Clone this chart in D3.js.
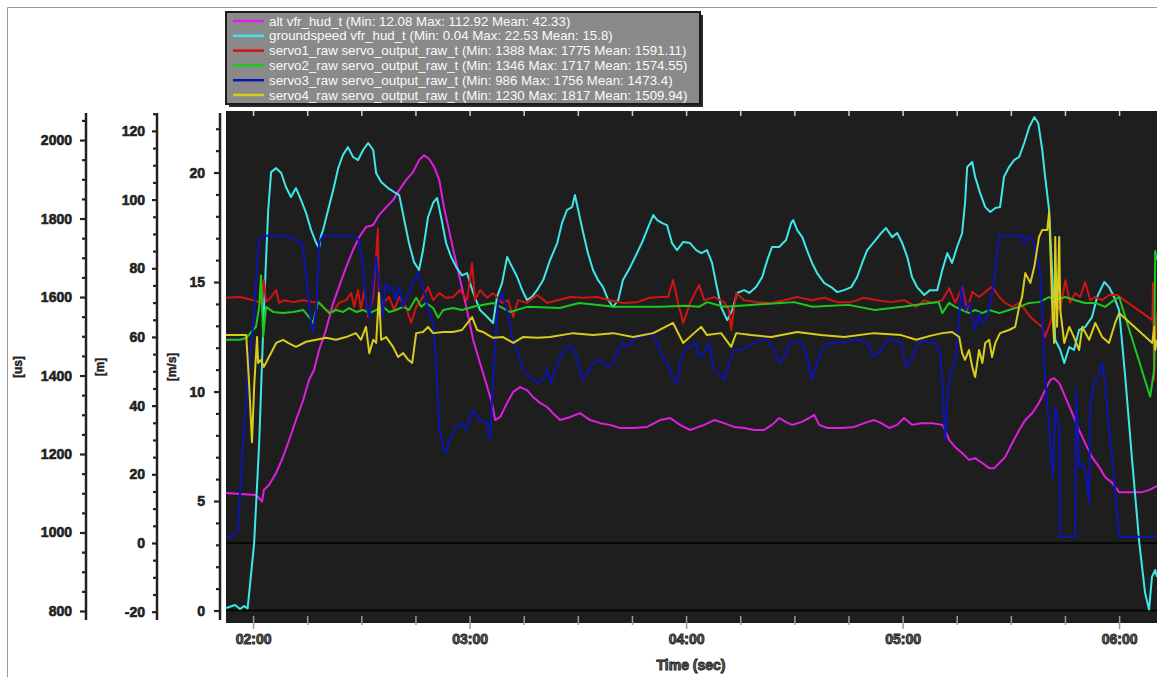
<!DOCTYPE html>
<html>
<head>
<meta charset="utf-8">
<script src="https://cdn.jsdelivr.net/npm/d3@7"></script>
<style>
  body { margin: 0; background: #fff; }
  svg text { font-family: "Liberation Sans", Arial, sans-serif; }
</style>
</head>
<body>
<div id="graph"></div>
<script>
// [time (s), value] samples
const altData = [[112.5,14.56],[116.5,14.3],[120.8,13.97],[122.5,12.08],[123.0,15.43],[124.4,16.88],[126.4,20.38],[128.3,25.04],[130.0,29.99],[131.9,35.81],[133.9,41.63],[135.5,47.45],[136.9,50.36],[138.3,56.19],[140.2,62.01],[142.2,69.87],[143.8,74.53],[145.8,80.35],[147.7,85.3],[149.4,89.08],[151.3,92.0],[153.3,92.58],[154.9,95.49],[156.9,97.82],[158.8,99.85],[160.5,102.77],[162.4,105.68],[164.3,108.0],[166.0,111.5],[167.4,112.92],[168.8,111.8],[170.2,109.5],[171.6,105.7],[172.9,97.8],[174.3,91.1],[175.7,84.4],[177.4,76.6],[179.3,67.8],[181.0,59.1],[182.9,52.4],[184.9,45.4],[186.2,40.8],[187.1,35.8],[188.5,36.7],[190.4,40.8],[192.1,44.0],[194.0,45.4],[195.9,44.5],[197.6,42.5],[199.5,40.8],[201.5,39.6],[203.1,37.8],[205.1,35.8],[207.9,36.7],[210.6,37.8],[213.4,35.8],[216.2,34.9],[218.9,34.4],[221.7,33.5],[225.3,33.5],[229.2,33.8],[232.8,35.8],[235.6,36.4],[238.3,34.4],[241.1,32.9],[245.0,34.4],[247.8,35.8],[250.5,34.9],[253.3,33.8],[256.1,33.5],[258.9,32.9],[261.6,32.9],[263.8,34.4],[265.8,36.4],[267.7,35.2],[269.4,34.4],[271.9,35.2],[274.1,36.4],[275.5,37.3],[276.9,34.4],[279.1,33.5],[283.0,33.5],[286.6,33.8],[289.3,34.9],[292.1,35.8],[294.1,34.9],[296.3,33.5],[298.5,34.4],[300.4,36.4],[302.6,34.4],[305.1,34.9],[308.2,34.9],[311.0,34.4],[311.8,32.9],[312.9,30.0],[314.6,27.9],[316.5,26.2],[318.4,24.2],[320.1,24.7],[322.1,23.3],[324.0,21.8],[325.4,21.8],[326.8,23.3],[328.4,25.0],[330.4,29.1],[332.3,32.9],[334.0,35.8],[335.9,37.8],[337.8,40.8],[339.5,44.5],[340.9,47.5],[342.0,48.0],[343.4,46.6],[345.1,42.5],[347.0,37.8],[348.9,32.9],[350.6,29.1],[352.5,25.0],[354.5,22.1],[356.1,19.2],[358.1,17.5],[360.0,14.8],[362.8,14.8],[366.4,14.8],[368.3,15.4],[370.5,16.6]];

const groundspeedData = [[112.5,0.11],[115.0,0.25],[116.4,0.07],[117.5,0.2],[118.5,0.1],[120.3,3.08],[121.7,7.65],[123.0,13.72],[124.2,18.29],[125.0,20.02],[126.4,20.2],[127.8,19.98],[129.1,19.34],[130.5,18.88],[131.9,19.29],[133.3,18.74],[134.7,18.15],[136.1,17.37],[137.5,16.78],[138.3,16.55],[138.8,17.1],[139.4,17.37],[140.8,18.29],[142.2,19.2],[143.6,20.2],[144.9,20.8],[146.3,21.16],[147.7,20.71],[149.1,20.57],[150.5,21.03],[151.9,21.35],[153.3,21.03],[154.1,19.98],[155.5,19.57],[157.4,19.29],[159.1,19.11],[160.5,18.97],[161.9,17.83],[163.2,16.78],[164.6,15.91],[166.0,15.55],[167.1,16.46],[168.5,17.97],[169.9,18.61],[171.0,18.84],[172.1,17.97],[173.5,16.78],[174.9,16.14],[176.3,15.68],[177.9,15.3],[179.3,15.41],[181.0,14.5],[182.9,13.72],[184.9,13.4],[186.5,13.13],[187.6,14.32],[189.0,14.95],[190.4,16.14],[191.8,15.68],[193.2,15.23],[194.6,14.63],[195.9,14.18],[197.3,14.32],[198.7,14.63],[200.4,15.09],[202.3,16.0],[204.3,16.78],[205.6,17.69],[207.0,18.29],[208.4,18.42],[209.2,18.97],[210.1,18.29],[211.5,17.24],[212.8,16.32],[214.2,15.55],[215.6,15.09],[217.0,14.77],[218.4,14.18],[219.8,13.86],[221.2,14.18],[222.5,15.09],[224.5,15.68],[226.4,16.32],[228.1,16.92],[229.5,17.51],[230.9,18.06],[232.0,17.83],[233.4,17.69],[234.7,17.6],[236.1,16.78],[237.5,16.46],[239.2,16.83],[241.1,16.78],[242.8,16.46],[244.2,16.32],[245.8,16.46],[247.2,15.87],[248.3,14.95],[249.7,13.86],[251.4,13.26],[252.8,13.72],[254.1,14.5],[256.1,14.63],[257.5,14.5],[259.4,14.77],[261.1,15.23],[262.5,16.0],[263.8,16.6],[265.8,16.6],[267.7,16.92],[269.1,17.69],[269.7,17.83],[270.8,17.37],[272.2,17.05],[273.5,16.46],[274.9,15.87],[276.3,15.41],[278.3,14.95],[280.2,14.77],[281.9,14.54],[283.8,14.63],[285.8,14.77],[287.4,15.23],[288.8,15.87],[290.2,16.46],[292.1,16.83],[294.1,17.24],[295.4,17.47],[297.1,17.05],[298.5,17.24],[299.9,16.78],[301.3,16.14],[302.6,15.23],[304.0,14.77],[306.0,14.41],[307.6,14.63],[309.6,14.63],[311.0,15.55],[312.4,16.32],[313.7,15.87],[315.1,16.6],[316.5,17.24],[317.3,18.61],[317.9,20.25],[319.3,20.48],[320.1,19.8],[321.5,19.06],[322.9,18.42],[324.3,18.2],[325.7,18.38],[327.0,18.42],[328.1,19.8],[329.5,20.25],[330.9,20.57],[332.3,20.71],[333.7,21.35],[335.1,22.08],[336.5,22.53],[337.6,22.26],[338.7,21.03],[339.5,19.8],[340.6,18.29],[341.5,15.23],[342.3,12.35],[343.7,11.9],[344.8,11.3],[346.2,12.03],[347.5,11.9],[348.9,12.81],[350.6,12.95],[352.5,13.4],[353.9,14.32],[355.9,15.0],[357.2,14.77],[358.6,14.32],[360.0,13.72],[361.7,10.66],[363.6,6.87],[365.6,3.08],[367.2,0.8],[368.3,0.04],[369.1,1.53],[370.0,1.85],[370.5,1.53]];

const servo1Data = [[112.5,1598],[116.4,1600],[120.0,1592],[122.2,1585],[123.0,1643],[123.6,1587],[125.0,1600],[126.4,1618],[127.2,1585],[128.6,1592],[131.1,1587],[133.9,1592],[136.6,1587],[138.3,1587],[140.2,1567],[142.2,1562],[143.8,1585],[145.8,1592],[147.2,1610],[148.0,1575],[149.1,1618],[149.9,1567],[150.8,1618],[151.9,1549],[153.3,1600],[154.6,1775],[154.9,1549],[156.0,1585],[157.7,1600],[159.1,1567],[160.5,1600],[162.4,1575],[163.8,1534],[165.2,1575],[167.1,1600],[168.5,1626],[169.9,1592],[171.6,1610],[173.5,1598],[175.4,1600],[177.4,1618],[179.3,1592],[180.7,1687],[181.5,1592],[182.9,1618],[184.9,1598],[186.5,1610],[189.0,1585],[190.7,1592],[192.1,1549],[193.4,1592],[195.9,1585],[198.7,1605],[201.5,1585],[204.3,1592],[207.9,1600],[211.5,1598],[215.3,1600],[218.9,1592],[222.5,1585],[226.4,1587],[230.0,1598],[232.8,1600],[235.0,1600],[236.4,1643],[237.8,1585],[239.2,1534],[241.1,1585],[243.6,1631],[245.0,1592],[247.8,1600],[250.5,1587],[251.9,1567],[252.5,1516],[253.9,1610],[256.1,1592],[259.7,1587],[263.6,1585],[267.2,1592],[270.8,1600],[274.7,1592],[278.3,1598],[281.9,1587],[285.7,1587],[289.3,1598],[292.9,1592],[296.8,1587],[300.4,1592],[303.8,1575],[306.0,1592],[308.2,1585],[311.0,1592],[312.9,1623],[314.6,1585],[316.5,1626],[317.9,1567],[319.3,1613],[321.2,1600],[322.9,1613],[324.8,1626],[326.8,1600],[328.4,1585],[330.4,1575],[332.3,1585],[334.0,1567],[335.4,1549],[337.3,1534],[338.7,1524],[339.5,1498],[340.9,1534],[342.3,1585],[343.7,1567],[345.1,1643],[346.4,1585],[347.8,1610],[349.2,1600],[350.6,1638],[352.0,1592],[353.4,1600],[355.3,1592],[357.2,1605],[359.5,1605],[369.2,1541],[369.4,1636],[369.7,1388],[370.0,1491],[370.5,1560]];

const servo2Data = [[112.5,1491],[116.4,1491],[118.1,1496],[120.0,1516],[120.8,1524],[121.7,1575],[122.2,1655],[122.8,1498],[123.6,1575],[125.6,1562],[128.3,1559],[131.1,1562],[133.9,1567],[135.5,1549],[136.6,1534],[138.0,1587],[139.4,1575],[141.1,1559],[143.0,1567],[145.0,1562],[146.6,1572],[148.6,1562],[150.5,1567],[152.2,1559],[154.1,1567],[156.0,1575],[157.7,1562],[159.6,1567],[161.6,1575],[163.2,1567],[165.2,1598],[166.6,1575],[167.9,1585],[169.9,1572],[171.3,1547],[172.7,1567],[175.4,1572],[177.9,1567],[181.0,1575],[186.5,1585],[191.2,1562],[196.0,1575],[205.0,1572],[210.4,1585],[220.0,1575],[232.8,1575],[240.0,1578],[243.6,1575],[245.8,1587],[250.5,1575],[255.0,1578],[270.0,1587],[275.0,1575],[285.0,1580],[292.3,1567],[300.0,1575],[307.6,1585],[310.0,1587],[311.0,1559],[312.9,1585],[314.6,1575],[316.5,1567],[318.4,1559],[320.1,1567],[322.1,1559],[324.0,1567],[326.8,1559],[329.5,1567],[332.3,1575],[335.1,1585],[337.8,1587],[340.6,1600],[342.3,1592],[345.1,1600],[347.8,1592],[350.6,1585],[353.4,1585],[356.1,1575],[358.6,1592],[360.0,1600],[368.6,1346],[369.7,1414],[370.0,1717],[370.5,1694]];

const servo3Data = [[112.5,989],[114.7,991],[115.8,1006],[117.2,1228],[118.6,1396],[120.0,1524],[121.4,1720],[121.7,1745],[122.8,1756],[125.5,1756],[129.1,1756],[131.9,1745],[133.6,1740],[134.7,1651],[136.1,1534],[136.6,1511],[137.5,1567],[138.3,1738],[139.4,1756],[143.0,1756],[147.7,1756],[149.4,1745],[150.5,1677],[151.3,1585],[152.2,1549],[153.3,1636],[154.1,1702],[154.9,1636],[156.0,1549],[156.6,1636],[157.7,1618],[158.8,1626],[159.6,1592],[160.5,1626],[161.6,1575],[163.0,1610],[164.3,1636],[165.7,1661],[167.1,1626],[168.5,1567],[169.9,1534],[170.7,1440],[171.6,1269],[172.7,1218],[173.5,1203],[174.3,1236],[176.3,1269],[177.9,1279],[178.8,1261],[181.0,1312],[182.9,1287],[184.9,1279],[185.7,1236],[186.2,1338],[187.1,1483],[187.9,1585],[189.0,1610],[190.4,1567],[191.8,1498],[193.2,1465],[194.8,1414],[196.8,1396],[198.7,1381],[200.4,1389],[201.5,1414],[202.6,1381],[203.7,1414],[205.1,1447],[207.0,1473],[208.7,1473],[210.1,1432],[211.2,1389],[212.6,1406],[214.2,1432],[216.2,1440],[218.1,1422],[219.8,1432],[221.2,1465],[222.5,1483],[223.9,1473],[225.3,1491],[227.3,1498],[229.2,1508],[230.6,1508],[232.0,1483],[233.4,1447],[234.7,1432],[236.1,1396],[237.5,1381],[238.3,1432],[239.7,1465],[241.1,1473],[242.8,1483],[243.6,1447],[245.0,1457],[246.4,1483],[247.8,1414],[249.2,1406],[250.5,1389],[251.9,1432],[253.3,1465],[255.3,1465],[256.9,1473],[258.9,1483],[260.8,1491],[262.5,1491],[264.4,1465],[265.8,1432],[267.2,1447],[268.6,1483],[270.5,1486],[272.2,1483],[273.5,1447],[274.9,1389],[276.3,1432],[277.7,1465],[279.1,1483],[281.9,1483],[284.6,1486],[287.4,1491],[290.2,1483],[292.1,1447],[294.1,1465],[295.7,1491],[297.7,1491],[299.6,1483],[301.0,1422],[302.4,1440],[303.8,1473],[305.4,1491],[307.4,1483],[309.0,1483],[310.4,1457],[311.2,1355],[311.8,1236],[312.4,1330],[313.2,1406],[314.6,1432],[315.7,1549],[316.2,1626],[317.3,1567],[318.4,1585],[319.3,1549],[320.1,1516],[321.2,1559],[322.1,1534],[323.4,1549],[324.3,1585],[325.4,1643],[326.2,1712],[326.8,1756],[329.5,1756],[333.1,1756],[333.7,1738],[334.5,1753],[335.9,1753],[336.7,1720],[338.1,1669],[339.5,1396],[340.9,1228],[341.7,1141],[342.3,1320],[343.4,1269],[343.7,989],[347.8,989],[348.1,1363],[348.9,1167],[349.8,1177],[350.6,1159],[351.7,1075],[352.0,1330],[353.1,1381],[354.5,1406],[355.3,1432],[356.1,1381],[357.2,1261],[358.6,1141],[360.0,989],[370.5,989]];

const servo4Data = [[112.5,1503],[116.4,1503],[118.1,1503],[118.9,1381],[119.7,1230],[120.3,1371],[121.1,1498],[121.4,1432],[122.2,1440],[123.0,1422],[124.4,1447],[126.4,1483],[128.3,1491],[129.7,1483],[131.9,1473],[134.7,1486],[137.5,1491],[140.2,1496],[143.0,1491],[145.8,1498],[148.5,1508],[149.9,1491],[151.3,1524],[152.2,1457],[153.3,1491],[154.1,1483],[154.9,1610],[155.5,1491],[156.9,1498],[158.8,1473],[160.2,1447],[161.6,1457],[163.0,1440],[164.1,1432],[165.2,1508],[167.1,1511],[168.5,1524],[169.9,1508],[172.7,1511],[175.4,1511],[177.9,1516],[180.7,1549],[182.1,1516],[183.7,1511],[186.5,1496],[189.3,1498],[192.1,1483],[194.8,1498],[198.7,1496],[202.3,1498],[208.7,1508],[214.2,1503],[219.8,1508],[225.3,1498],[230.9,1508],[236.4,1534],[239.2,1483],[242.2,1508],[244.2,1524],[245.8,1503],[249.7,1508],[252.5,1473],[253.9,1508],[258.0,1503],[263.6,1498],[270.8,1511],[277.4,1503],[283.8,1498],[292.1,1508],[299.6,1503],[303.8,1491],[307.6,1501],[311.0,1508],[313.7,1511],[315.7,1498],[316.5,1457],[317.3,1440],[318.4,1465],[319.3,1422],[320.1,1396],[321.2,1465],[322.1,1432],[322.9,1483],[324.0,1491],[324.8,1447],[325.7,1483],[327.0,1508],[329.5,1516],[331.2,1524],[332.3,1575],[333.1,1600],[334.0,1661],[335.4,1636],[336.5,1677],[337.8,1753],[338.7,1771],[340.1,1771],[340.6,1817],[341.5,1567],[342.0,1483],[342.3,1753],[342.8,1524],[343.4,1753],[343.7,1567],[344.8,1483],[346.2,1524],[347.5,1498],[348.9,1465],[349.8,1524],[351.7,1491],[353.4,1534],[355.3,1498],[357.2,1483],[358.9,1534],[360.0,1559],[369.2,1483],[369.7,1524],[370.0,1465],[370.5,1491]];

const legendLabels = [
  'alt vfr_hud_t (Min: 12.08 Max: 112.92 Mean: 42.33)',
  'groundspeed vfr_hud_t (Min: 0.04 Max: 22.53 Mean: 15.8)',
  'servo1_raw servo_output_raw_t (Min: 1388 Max: 1775 Mean: 1591.11)',
  'servo2_raw servo_output_raw_t (Min: 1346 Max: 1717 Mean: 1574.55)',
  'servo3_raw servo_output_raw_t (Min: 986 Max: 1756 Mean: 1473.4)',
  'servo4_raw servo_output_raw_t (Min: 1230 Max: 1817 Mean: 1509.94)'
];
const seriesColors = ['#e01ee0', '#3ee8e8', '#d01414', '#1ec81e', '#0c14b4', '#d8cc1c'];
const seriesAxes = ['m', 'ms', 'us', 'us', 'us', 'us'];
const timeDomain = [112.5, 370.5];

function drawChart(parent) {
  let width = 1157,
    height = 677,
    plot = { left: 226, right: 1157, top: 111, bottom: 623 };

  let svg = d3.select(parent).append('svg')
    .attr('width', width)
    .attr('height', height);

  // outer frame of the screenshot
  svg.append('path')
    .attr('d', `M7.5,${height} V7.5 H${width}`)
    .attr('fill', 'none')
    .attr('stroke', '#9a9a9a');

  let x = d3.scaleLinear().domain(timeDomain).range([plot.left, plot.right]);

  // each y axis keeps its own scale, all sharing the plot height
  let axes = {
    us: { title: '[us]', ax: 86, titleX: 18, titleY: 367, domain: [769.4, 2074], minor: 50, major: 200, lo: 800, hi: 2050, tick: 6, pad: 8 },
    m: { title: '[m]', ax: 157, titleX: 100, titleY: 367, domain: [-23.3, 125.8], minor: 5, major: 20, lo: -20, hi: 125, tick: 5, pad: 7 },
    ms: { title: '[m/s]', ax: 220, titleX: 172, titleY: 367, domain: [-0.57, 22.81], minor: 1, major: 5, lo: 0, hi: 22, tick: 6, pad: 9 }
  };
  Object.values(axes).forEach(a => {
    a.scale = d3.scaleLinear().domain(a.domain).range([plot.bottom, plot.top]);
  });

  // plot background
  svg.append('rect')
    .attr('x', plot.left)
    .attr('y', plot.top)
    .attr('width', plot.right - plot.left)
    .attr('height', plot.bottom - plot.top)
    .attr('fill', '#1e1e1e');

  svg.append('clipPath').attr('id', 'plotclip')
    .append('rect')
    .attr('x', plot.left)
    .attr('y', plot.top)
    .attr('width', plot.right - plot.left)
    .attr('height', plot.bottom - plot.top);

  // zero lines of the altitude and speed axes
  [axes.m.scale(0), axes.ms.scale(0)].forEach(yy => {
    svg.append('line')
      .attr('x1', plot.left).attr('x2', plot.right)
      .attr('y1', yy).attr('y2', yy)
      .attr('stroke', '#000')
      .attr('stroke-width', 1.5);
  });

  // left axes
  Object.values(axes).forEach(a => {
    let g = svg.append('g').attr('transform', `translate(${a.ax},0)`);
    let minorVals = d3.range(a.lo, a.hi + a.minor / 2, a.minor).filter(v => Math.abs(v % a.major) > 1e-6);
    let majorVals = d3.range(Math.ceil(a.lo / a.major) * a.major, a.hi + 1e-6, a.major);

    g.append('g')
      .call(d3.axisLeft(a.scale).tickValues(minorVals).tickSize(4).tickFormat(''))
      .call(s => s.select('.domain').remove());
    g.append('g')
      .call(d3.axisLeft(a.scale).tickValues(majorVals).tickSize(a.tick).tickPadding(a.pad).tickFormat(d => String(d)))
      .call(s => s.select('.domain').remove())
      .selectAll('text')
      .attr('font-size', 14)
      .attr('font-weight', 'bold')
      .attr('fill', '#222')
      .attr('stroke', '#222')
      .attr('stroke-width', 0.6);
    g.selectAll('.tick line').attr('stroke', '#222').attr('stroke-width', 2.2);
    g.append('line')
      .attr('y1', 113).attr('y2', 620)
      .attr('stroke', '#222')
      .attr('stroke-width', 2.5);

    svg.append('text')
      .attr('transform', `translate(${a.titleX},${a.titleY}) rotate(-90)`)
      .attr('text-anchor', 'middle')
      .attr('dy', '0.35em')
      .attr('font-size', 12)
      .attr('font-weight', 'bold')
      .attr('fill', '#222')
      .attr('stroke', '#222')
      .attr('stroke-width', 0.4)
      .text(a.title);
  });

  // time axis: mm:ss labels every minute, minor ticks every 15 s
  let fmt2 = d3.format('02d'),
    fmtTime = s => fmt2(Math.floor(s / 60)) + ':' + fmt2(Math.round(s % 60));

  let minorT = d3.range(135, 371, 15).filter(t => t % 60 !== 0),
    majorT = d3.range(120, 371, 60);

  let xMinor = svg.append('g')
    .attr('transform', `translate(0,${plot.bottom - 7})`)
    .call(d3.axisBottom(x).tickValues(minorT).tickSize(9).tickFormat(''))
    .call(s => s.select('.domain').remove());
  let xMajor = svg.append('g')
    .attr('transform', `translate(0,${plot.bottom - 7})`)
    .call(d3.axisBottom(x).tickValues(majorT).tickSize(13).tickPadding(5).tickFormat(fmtTime))
    .call(s => s.select('.domain').remove());
  xMajor.selectAll('text')
    .attr('font-size', 14)
    .attr('font-weight', 'bold')
    .attr('fill', '#666')
    .attr('stroke', '#222')
    .attr('stroke-width', 0.9);
  [xMinor, xMajor].forEach(g => g.selectAll('.tick line').attr('stroke', '#9a9a9a').attr('stroke-width', 1.5));

  // small ticks along the top edge of the plot
  svg.append('g')
    .attr('transform', `translate(0,${plot.top})`)
    .call(d3.axisBottom(x).tickValues(minorT.concat(majorT)).tickSize(5).tickFormat(''))
    .call(s => s.select('.domain').remove())
    .selectAll('line')
    .attr('stroke', '#cfcfcf')
    .attr('stroke-width', 1.5);

  svg.append('text')
    .attr('x', 691)
    .attr('y', 665)
    .attr('dy', '0.35em')
    .attr('text-anchor', 'middle')
    .attr('font-size', 14)
    .attr('font-weight', 'bold')
    .attr('fill', '#666')
    .attr('stroke', '#222')
    .attr('stroke-width', 0.9)
    .text('Time (sec)');

  // series lines
  let seriesData = [altData, groundspeedData, servo1Data, servo2Data, servo3Data, servo4Data];
  let lines = svg.append('g').attr('clip-path', 'url(#plotclip)');
  seriesData.forEach((data, i) => {
    let y = axes[seriesAxes[i]].scale;
    let line = d3.line()
      .x(d => x(d[0]))
      .y(d => y(d[1]));
    lines.append('path')
      .datum(data)
      .attr('d', line)
      .attr('fill', 'none')
      .attr('stroke', seriesColors[i])
      .attr('stroke-width', 2)
      .attr('stroke-linejoin', 'round');
  });

  // legend box
  let legend = svg.append('g');
  legend.append('rect')
    .attr('x', 229).attr('y', 15)
    .attr('width', 474).attr('height', 92)
    .attr('fill', '#2a2a2a');
  legend.append('rect')
    .attr('x', 226).attr('y', 12)
    .attr('width', 474).attr('height', 92)
    .attr('fill', '#8a8a8a')
    .attr('stroke', '#1a1a1a')
    .attr('stroke-width', 2);

  let rows = legend.selectAll('g.row')
    .data(legendLabels)
    .enter()
    .append('g')
    .attr('transform', (d, i) => `translate(0,${21 + i * 14.8})`);
  rows.append('line')
    .attr('x1', 233).attr('x2', 264)
    .attr('stroke', (d, i) => seriesColors[i])
    .attr('stroke-width', 2.5);
  rows.append('text')
    .attr('x', 269)
    .attr('dy', '0.35em')
    .attr('font-size', 13.3)
    .attr('fill', '#fafafa')
    .text(d => d);
}

drawChart('#graph');
</script>
</body>
</html>
